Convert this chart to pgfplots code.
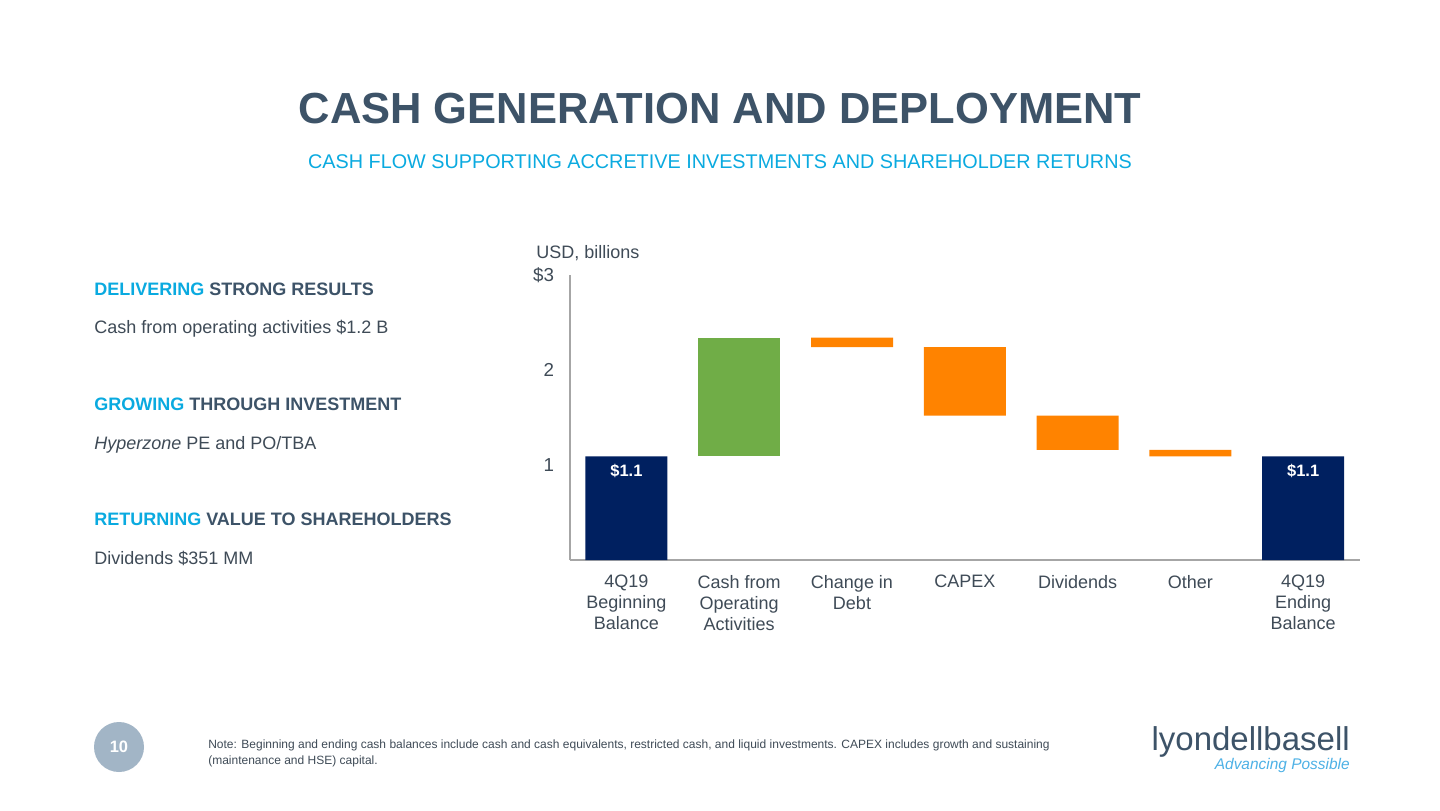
\documentclass[border=0pt]{standalone}
\usepackage{fontspec}
\setmainfont{Liberation Sans}
\usepackage{pgfplots}
\pgfplotsset{compat=1.18}
\definecolor{slate}{HTML}{3D5368}
\definecolor{txt}{HTML}{3F4B57}
\definecolor{lbcyan}{HTML}{0AAAE0}
\definecolor{lbnavy}{HTML}{002060}
\definecolor{lbgreen}{HTML}{70AD47}
\definecolor{lborange}{HTML}{FF8300}
\definecolor{axgray}{HTML}{A6A6A6}
\definecolor{badge}{HTML}{A2B5C6}
\definecolor{tagline}{HTML}{4DB1E6}

% waterfall: invisible base + visible deltas
\pgfplotstableread{
x base navy green orange
0 0    1.09 0    0
1 1.09 0    1.25 0
2 2.24 0    0    0.10
3 1.52 0    0    0.72
4 1.16 0    0    0.36
5 1.09 0    0    0.07
6 0    1.09 0    0
}\cashdata

\begin{document}
\begin{tikzpicture}
% slide in pixel units (1px = 2/3 pt)
\begin{scope}[x=0.666667pt,y=-0.666667pt]
\fill[white] (0,0) rectangle (1440,810);
\node[anchor=base, inner sep=0pt, font=\fontsize{29}{34}\selectfont\bfseries, text=slate] at (720,123) {CASH GENERATION AND DEPLOYMENT};
\node[anchor=base, inner sep=0pt, font=\fontsize{13.2}{16}\selectfont, text=lbcyan] at (720,168) {CASH FLOW SUPPORTING ACCRETIVE INVESTMENTS AND SHAREHOLDER RETURNS};

\begin{scope}[every node/.style={anchor=base west, inner sep=0pt, font=\fontsize{12}{14}\selectfont}]
\node[text=slate, font=\fontsize{12}{14}\selectfont\bfseries] at (94,295) {{\color{lbcyan}DELIVERING} STRONG RESULTS};
\node[text=txt] at (94,333) {Cash from operating activities \$1.2 B};
\node[text=slate, font=\fontsize{12}{14}\selectfont\bfseries] at (94,410) {{\color{lbcyan}GROWING} THROUGH INVESTMENT};
\node[text=txt] at (94,449) {\textit{Hyperzone} PE and PO/TBA};
\node[text=slate, font=\fontsize{12}{14}\selectfont\bfseries] at (94,525) {{\color{lbcyan}RETURNING} VALUE TO SHAREHOLDERS};
\node[text=txt] at (94,564) {Dividends \$351 MM};
\node[text=txt] at (536,258) {USD, billions};
\end{scope}

\fill[badge] (119,747) circle (25);
\node[text=white, font=\fontsize{11}{13}\selectfont\bfseries] at (119,747) {10};
\node[anchor=north west, inner sep=0pt, text=txt, font=\fontsize{8}{10.7}\selectfont, align=left] at (208,739)
  {Note: Beginning and ending cash balances include cash and cash equivalents, restricted cash, and liquid investments. CAPEX includes growth and sustaining\\(maintenance and HSE) capital.};
\node[anchor=base east, inner sep=0pt, text=slate, font=\fontsize{22}{26}\selectfont] at (1350,750) {lyondellbasell};
\node[anchor=base east, inner sep=0pt, text=tagline, font=\fontsize{10.3}{12}\selectfont\itshape] at (1350,769) {Advancing Possible};
\end{scope}

\begin{axis}[
  at={(380pt,-373.333pt)}, anchor=south west,
  scale only axis, width=526.4pt, height=190pt,
  xmin=-0.5, xmax=6.5, ymin=0, ymax=3,
  ybar stacked, bar width=0.727,
  axis x line*=bottom, axis y line*=left,
  axis line style={axgray, line width=0.8pt},
  major tick length=0pt,
  xtick=data,
  xticklabels={{4Q19\\Beginning\\Balance},{Cash from\\Operating\\Activities},{Change in\\Debt},CAPEX,Dividends,Other,{4Q19\\Ending\\Balance}},
  xticklabel style={align=center, anchor=north, inner sep=0pt, yshift=-10pt, text=txt, font=\fontsize{12}{14}\selectfont},
  ytick={1,2,3}, yticklabels={1,2,\$3},
  yticklabel style={anchor=east, inner sep=0pt, xshift=-10.5pt, text=txt, font=\fontsize{12.5}{14}\selectfont},
  /pgf/number format/assume math mode=true,
  clip=false,
]
\addplot[fill=none, draw=none] table[x=x, y=base] {\cashdata};
\addplot[fill=lbnavy, draw=none] table[x=x, y=navy] {\cashdata};
\addplot[fill=lbgreen, draw=none] table[x=x, y=green] {\cashdata};
\addplot[fill=lborange, draw=none] table[x=x, y=orange] {\cashdata};
\coordinate (lblA) at (axis cs:0,0.935);
\coordinate (lblB) at (axis cs:6,0.935);
\end{axis}
\node[text=white, font=\fontsize{11}{13}\selectfont\bfseries] at (lblA) {\$1.1};
\node[text=white, font=\fontsize{11}{13}\selectfont\bfseries] at (lblB) {\$1.1};
\end{tikzpicture}
\end{document}
